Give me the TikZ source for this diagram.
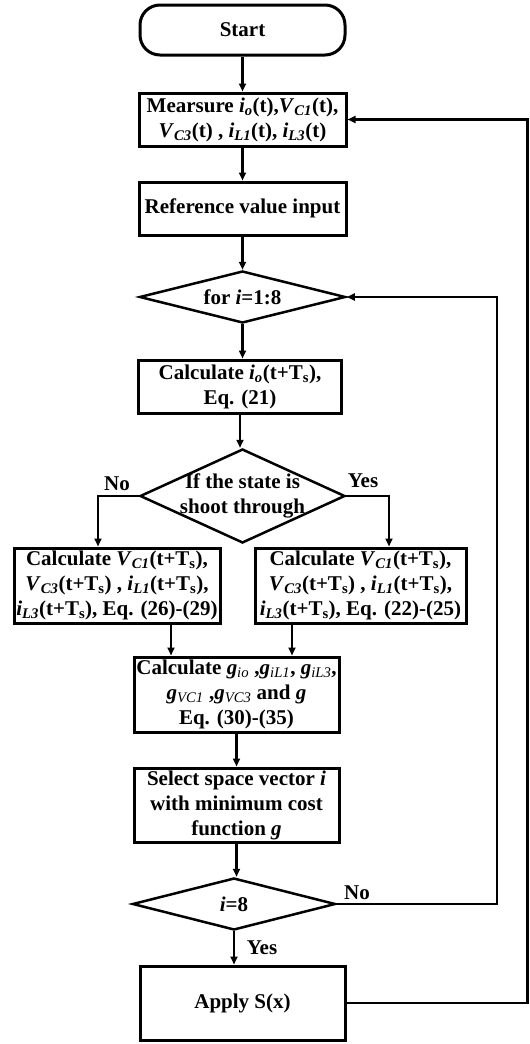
\documentclass[tikz,border=0pt]{standalone}
\usepackage{fontspec}
\setmainfont{Liberation Serif}
\usetikzlibrary{arrows.meta,shapes.geometric}
\newcommand\vv[2]{\textit{#1}\textsubscript{\textit{#2}}}
\newcommand\gsub[1]{\textit{g}\textsubscript{\mdseries\textit{#1}}}
\newcommand\lo[1]{\textsubscript{#1}}
\begin{document}
\begin{tikzpicture}[x=1pt,y=-1pt,
  txt/.style={font=\fontsize{21}{25}\selectfont\bfseries, align=center, inner sep=0pt},
  box/.style={txt, draw, line width=3pt},
  dia/.style={draw, diamond, line width=2.5pt, inner sep=0pt},
  arr/.style={line width=2.5pt, -{Triangle[length=8pt,width=7pt]}},
  lab/.style={txt}]
\useasboundingbox (0,0) rectangle (530,1044);
\node[box, rounded corners=20pt, minimum width=205pt, minimum height=50pt] (start) at (242.5,30) {Start};
\node[box, minimum width=207pt, minimum height=53pt] (meas) at (242.5,119.5)
  {Mearsure \vv{i}{o}(t),\vv{V}{C1}(t),\\ \vv{V}{C3}(t) , \vv{i}{L1}(t), \vv{i}{L3}(t)};
\node[box, minimum width=207pt, minimum height=53pt] (ref) at (242.5,208.5) {Reference value input};
\node[dia, minimum width=206pt, minimum height=52pt] (for) at (242.5,297) {};
\node[txt] (fortxt) at (for.center) {for \textit{i}=1:8};
\node[box, minimum width=203pt, minimum height=53pt] (calcio) at (240,386.5)
  {Calculate \vv{i}{o}(t+T\lo{s}),\\ Eq. (21)};
\node[dia, minimum width=205pt, minimum height=94pt] (shoot) at (242.5,496) {};
\node[txt] (shoottxt) at (242.5,496) {If the state is\\ shoot through};
\node[box, minimum width=206pt, minimum height=75pt] (left) at (117,585.5)
  {Calculate \vv{V}{C1}(t+T\lo{s}),\\ \vv{V}{C3}(t+T\lo{s}) , \vv{i}{L1}(t+T\lo{s}),\\ \vv{i}{L3}(t+T\lo{s}), Eq. (26)-(29)};
\node[box, minimum width=211pt, minimum height=75pt] (right) at (360.5,585.5)
  {Calculate \vv{V}{C1}(t+T\lo{s}),\\ \vv{V}{C3}(t+T\lo{s}) , \vv{i}{L1}(t+T\lo{s}),\\ \vv{i}{L3}(t+T\lo{s}), Eq. (22)-(25)};
\node[box, minimum width=205pt, minimum height=75pt] (g) at (236.5,694.5)
  {Calculate \gsub{io} ,\gsub{iL1}, \gsub{iL3},\\ \gsub{VC1} ,\gsub{VC3} and \textit{g}\\ Eq. (30)-(35)};
\node[box, minimum width=205pt, minimum height=74pt] (sel) at (236.5,805)
  {Select space vector \textit{i}\\ with minimum cost\\ function \textit{g}};
\node[dia, minimum width=203pt, minimum height=52pt] (ieight) at (234,904) {};
\node[txt] (ieighttxt) at (ieight.center) {\textit{i}=8};
\node[box, minimum width=205pt, minimum height=74pt] (apply) at (242.5,1003) {Apply S(x)};
\coordinate (cA) at (497,297);
\coordinate (cB) at (527.5,119.5);
% labels
\node[lab] (no1) at (117,484) {No};
\node[lab] (yes1) at (363,481) {Yes};
\node[lab] (no2) at (357,893) {No};
\node[lab] (yes2) at (262,948) {Yes};
% connectors
\draw[arr] (start) -- (meas);
\draw[arr] (meas) -- (ref);
\draw[arr] (ref) -- (for);
\draw[arr] (for.south) -- (for.south |- calcio.north);
\draw[arr] (calcio.south) -- (calcio.south |- shoot.north);
\draw[arr] (shoot.west) -| ([xshift=-19pt]left.north);
\draw[arr] (shoot.east) -| ([xshift=28.5pt]right.north);
\draw[arr] ([xshift=54pt]left.south) -- ([xshift=54pt]left.south |- g.north);
\draw[arr] ([xshift=-68.5pt]right.south) -- ([xshift=-68.5pt]right.south |- g.north);
\draw[arr] (g.south) -- (g.south |- sel.north);
\draw[arr] (sel.south) -- (sel.south |- ieight.north);
\draw[arr] (ieight.south) -- (ieight.south |- apply.north);
\draw[arr] (ieight.east) -| (cA) -- (for.east);
\draw[arr] (apply.east) -| (cB) -- (meas.east);
\end{tikzpicture}
\end{document}
